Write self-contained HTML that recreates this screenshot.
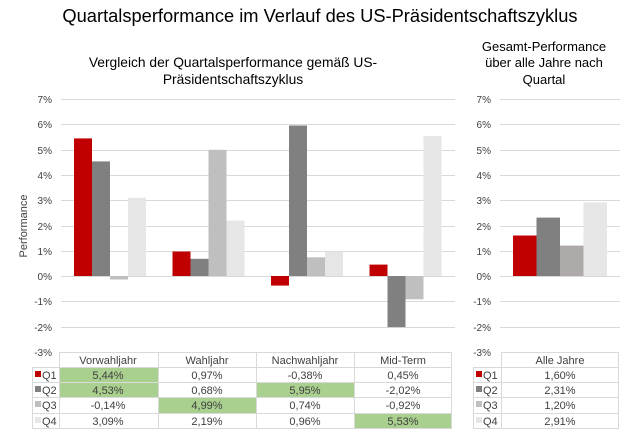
<!DOCTYPE html>
<html><head><meta charset="utf-8"><style>body{margin:0;background:#fff}svg{display:block}text{font-family:"Liberation Sans",sans-serif;fill:#404040}</style></head><body>
<svg width="640" height="432" xmlns="http://www.w3.org/2000/svg">
<text x="320" y="22" font-size="18.3" text-anchor="middle" style="fill:#000">Quartalsperformance im Verlauf des US-Präsidentschaftszyklus</text>
<text x="233" y="67" font-size="13.8" text-anchor="middle" style="fill:#000">Vergleich der Quartalsperformance gemäß US-</text>
<text x="233" y="84" font-size="13.8" text-anchor="middle" style="fill:#000">Präsidentschaftszyklus</text>
<text x="544" y="51" font-size="13" text-anchor="middle" style="fill:#000">Gesamt-Performance</text>
<text x="544" y="67" font-size="13" text-anchor="middle" style="fill:#000">über alle Jahre nach</text>
<text x="544" y="84" font-size="13" text-anchor="middle" style="fill:#000">Quartal</text>
<g stroke="#d9d9d9" stroke-width="1">
<line x1="61" x2="455" y1="99.5" y2="99.5"/><line x1="61" x2="455" y1="124.5" y2="124.5"/><line x1="61" x2="455" y1="150.5" y2="150.5"/><line x1="61" x2="455" y1="175.5" y2="175.5"/><line x1="61" x2="455" y1="200.5" y2="200.5"/><line x1="61" x2="455" y1="226.5" y2="226.5"/><line x1="61" x2="455" y1="251.5" y2="251.5"/><line x1="61" x2="455" y1="276.5" y2="276.5"/><line x1="61" x2="455" y1="301.5" y2="301.5"/><line x1="61" x2="455" y1="327.5" y2="327.5"/>
<line x1="500" x2="620" y1="99.5" y2="99.5"/><line x1="500" x2="620" y1="124.5" y2="124.5"/><line x1="500" x2="620" y1="150.5" y2="150.5"/><line x1="500" x2="620" y1="175.5" y2="175.5"/><line x1="500" x2="620" y1="200.5" y2="200.5"/><line x1="500" x2="620" y1="226.5" y2="226.5"/><line x1="500" x2="620" y1="251.5" y2="251.5"/><line x1="500" x2="620" y1="276.5" y2="276.5"/><line x1="500" x2="620" y1="301.5" y2="301.5"/><line x1="500" x2="620" y1="327.5" y2="327.5"/>
</g>
<g font-size="10" text-anchor="end">
<text x="52" y="103">7%</text><text x="52" y="128">6%</text><text x="52" y="154">5%</text><text x="52" y="179">4%</text><text x="52" y="204">3%</text><text x="52" y="230">2%</text><text x="52" y="255">1%</text><text x="52" y="280">0%</text><text x="52" y="305">-1%</text><text x="52" y="331">-2%</text><text x="52" y="356">-3%</text>
<text x="491" y="103">7%</text><text x="491" y="128">6%</text><text x="491" y="154">5%</text><text x="491" y="179">4%</text><text x="491" y="204">3%</text><text x="491" y="230">2%</text><text x="491" y="255">1%</text><text x="491" y="280">0%</text><text x="491" y="305">-1%</text><text x="491" y="331">-2%</text><text x="491" y="356">-3%</text>
</g>
<text transform="translate(27,226) rotate(-90)" font-size="11" text-anchor="middle">Performance</text>
<g>
<rect x="74" y="138.4" width="18" height="137.6" fill="#c00000"/>
<rect x="92" y="161.4" width="18" height="114.6" fill="#808080"/>
<rect x="110" y="276" width="18" height="3.5" fill="#bfbfbf"/>
<rect x="128" y="197.8" width="18" height="78.2" fill="#e7e6e6"/>
<rect x="172.5" y="251.5" width="18" height="24.5" fill="#c00000"/>
<rect x="190.5" y="258.8" width="18" height="17.2" fill="#808080"/>
<rect x="208.5" y="149.8" width="18" height="126.2" fill="#bfbfbf"/>
<rect x="226.5" y="220.6" width="18" height="55.4" fill="#e7e6e6"/>
<rect x="271" y="276" width="18" height="9.6" fill="#c00000"/>
<rect x="289" y="125.5" width="18" height="150.5" fill="#808080"/>
<rect x="307" y="257.3" width="18" height="18.7" fill="#bfbfbf"/>
<rect x="325" y="251.7" width="18" height="24.3" fill="#e7e6e6"/>
<rect x="369.5" y="264.6" width="18" height="11.4" fill="#c00000"/>
<rect x="387.5" y="276" width="18" height="51.1" fill="#808080"/>
<rect x="405.5" y="276" width="18" height="23.3" fill="#bfbfbf"/>
<rect x="423.5" y="136.1" width="18" height="139.9" fill="#e7e6e6"/>
<rect x="513" y="235.5" width="23.5" height="40.5" fill="#c00000"/>
<rect x="536.5" y="217.6" width="23.5" height="58.4" fill="#808080"/>
<rect x="560" y="245.6" width="23.5" height="30.4" fill="#aeaaaa"/>
<rect x="583.5" y="202.4" width="23.5" height="73.6" fill="#e7e6e6"/>
</g>
<g fill="#a9d08e">
<rect x="59" y="367" width="99" height="15"/><rect x="59" y="382" width="99" height="15"/><rect x="158" y="397" width="98" height="16"/><rect x="256" y="382" width="98" height="15"/><rect x="354" y="413" width="98" height="15"/>
</g>
<g stroke="#d9d9d9" stroke-width="1" fill="none">
<path d="M59 352.5H452M32 367.5H452M32 382.5H452M32 397.5H452M32 413.5H452M32 428.5H452M32.5 367V428M59.5 352V428M158.5 352V428M256.5 352V428M354.5 352V428M451.5 352V428"/>
<path d="M501 352.5H619M473 367.5H619M473 382.5H619M473 397.5H619M473 413.5H619M473 428.5H619M473.5 367V428M501.5 352V428M618.5 352V428"/>
</g>
<g font-size="11" text-anchor="middle">
<text x="108" y="364">Vorwahljahr</text><text x="207" y="364">Wahljahr</text><text x="305" y="364">Nachwahljahr</text><text x="403" y="364">Mid-Term</text>
<text x="108" y="379">5,44%</text><text x="207" y="379">0,97%</text><text x="305" y="379">-0,38%</text><text x="403" y="379">0,45%</text>
<text x="108" y="394">4,53%</text><text x="207" y="394">0,68%</text><text x="305" y="394">5,95%</text><text x="403" y="394">-2,02%</text>
<text x="108" y="409">-0,14%</text><text x="207" y="409">4,99%</text><text x="305" y="409">0,74%</text><text x="403" y="409">-0,92%</text>
<text x="108" y="425">3,09%</text><text x="207" y="425">2,19%</text><text x="305" y="425">0,96%</text><text x="403" y="425">5,53%</text>
<text x="560" y="364">Alle Jahre</text>
<text x="560" y="379">1,60%</text><text x="560" y="394">2,31%</text><text x="560" y="409">1,20%</text><text x="560" y="425">2,91%</text>
</g>
<g font-size="11">
<rect x="35" y="371" width="6" height="6" fill="#c00000"/><text x="42" y="379">Q1</text>
<rect x="35" y="386" width="6" height="6" fill="#808080"/><text x="42" y="394">Q2</text>
<rect x="35" y="401" width="6" height="6" fill="#bfbfbf"/><text x="42" y="409">Q3</text>
<rect x="35" y="417" width="6" height="6" fill="#e7e6e6"/><text x="42" y="425">Q4</text>
<rect x="476" y="371" width="6" height="6" fill="#c00000"/><text x="483" y="379">Q1</text>
<rect x="476" y="386" width="6" height="6" fill="#808080"/><text x="483" y="394">Q2</text>
<rect x="476" y="401" width="6" height="6" fill="#bfbfbf"/><text x="483" y="409">Q3</text>
<rect x="476" y="417" width="6" height="6" fill="#e7e6e6"/><text x="483" y="425">Q4</text>
</g>
</svg>
</body></html>
